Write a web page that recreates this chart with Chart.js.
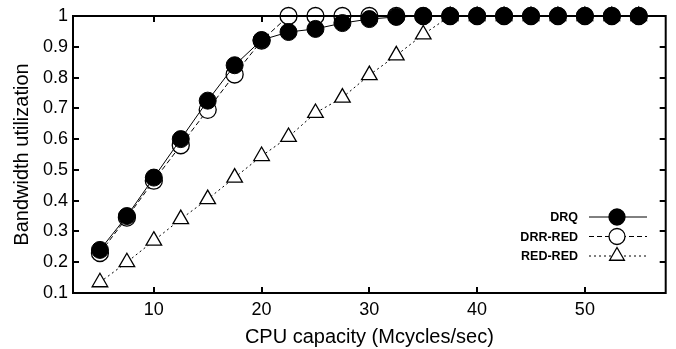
<!doctype html>
<html>
<head>
<title>Bandwidth utilization</title>
<script src="https://cdn.jsdelivr.net/npm/chart.js@4/dist/chart.umd.min.js"></script>
<style>
  body { margin: 0; background: #fff; }
  #wrap { width: 676px; height: 349px; }
</style>
</head>
<body>
<div id="wrap"><canvas id="canvas"></canvas></div>
<script>
// CPU capacity (Mcycles/sec)
var cpu = [5, 7.5, 10, 12.5, 15, 17.5, 20, 22.5, 25, 27.5, 30, 32.5, 35, 37.5, 40, 42.5, 45, 47.5, 50, 52.5, 55];
var drq    = [0.24, 0.35, 0.475, 0.60, 0.725, 0.84, 0.922, 0.948, 0.958, 0.977, 0.99, 0.997, 1, 1, 1, 1, 1, 1, 1, 1, 1];
var drrRed = [0.23, 0.345, 0.465, 0.58, 0.695, 0.81, 0.92, 1, 1, 1, 1, 1, 1, 1, 1, 1, 1, 1, 1, 1, 1];
var redRed = [0.135, 0.20, 0.27, 0.34, 0.405, 0.475, 0.545, 0.607, 0.685, 0.735, 0.808, 0.872, 0.94, 1, 1, 1, 1, 1, 1, 1, 1];
var xTicks = [10, 20, 30, 40, 50];
var yTicks = [0.1, 0.2, 0.3, 0.4, 0.5, 0.6, 0.7, 0.8, 0.9, 1];

var FONT = "'Liberation Sans', Arial, sans-serif";

function pts(ys) {
  return cpu.map(function (x, i) { return { x: x, y: ys[i] }; });
}

// inward ticks on all four sides + frame
var frame = {
  id: 'frame',
  afterDatasetsDraw: function (chart) {
    var c = chart.ctx, a = chart.chartArea;
    var xs = chart.scales.x, ys = chart.scales.y;
    c.save();
    c.strokeStyle = '#000';
    c.lineWidth = 2;
    c.strokeRect(a.left, a.top, a.right - a.left, a.bottom - a.top);
    c.beginPath();
    xTicks.forEach(function (v) {
      var px = Math.round(xs.getPixelForValue(v));
      c.moveTo(px, a.bottom); c.lineTo(px, a.bottom - 6);
      c.moveTo(px, a.top); c.lineTo(px, a.top + 6);
    });
    yTicks.forEach(function (v) {
      var py = Math.round(ys.getPixelForValue(v));
      c.moveTo(a.left, py); c.lineTo(a.left + 6, py);
      c.moveTo(a.right, py); c.lineTo(a.right - 6, py);
    });
    c.stroke();
    c.restore();
  }
};

// gnuplot style key, bottom right inside the plot
var key = {
  id: 'key',
  afterDraw: function (chart) {
    var c = chart.ctx;
    var rows = [217, 236.5, 256];
    c.save();
    c.font = 'bold 12.5px ' + FONT;
    c.textAlign = 'right';
    c.textBaseline = 'middle';
    chart.data.datasets.forEach(function (ds, i) {
      var y = rows[i];
      c.fillStyle = '#000';
      c.fillText(ds.label, 578, y + 1);
      c.strokeStyle = '#000';
      c.lineWidth = 1;
      c.setLineDash(ds.borderDash || []);
      c.beginPath(); c.moveTo(589, y); c.lineTo(647, y); c.stroke();
      c.setLineDash([]);
      c.lineWidth = 1.3;
      c.fillStyle = ds.pointBackgroundColor;
      c.beginPath();
      if (ds.pointStyle === 'triangle') {
        var r = 8.5;
        c.moveTo(617, y - r); c.lineTo(617 + r * 0.87, y + r * 0.5); c.lineTo(617 - r * 0.87, y + r * 0.5); c.closePath();
      } else {
        c.arc(617, y, 8, 0, Math.PI * 2);
      }
      c.fill(); c.stroke();
    });
    c.restore();
  }
};

new Chart(document.getElementById('canvas'), {
  type: 'line',
  data: {
    datasets: [{
      label: 'DRQ',
      data: pts(drq),
      borderColor: '#000',
      borderWidth: 1,
      pointStyle: 'circle',
      pointRadius: 8.5,
      pointBackgroundColor: '#000',
      pointBorderColor: '#000'
    }, {
      label: 'DRR-RED',
      data: pts(drrRed),
      borderColor: '#000',
      borderWidth: 1,
      borderDash: [5, 3],
      pointStyle: 'circle',
      pointRadius: 8.5,
      pointBorderWidth: 1.3,
      pointBackgroundColor: '#fff',
      pointBorderColor: '#000'
    }, {
      label: 'RED-RED',
      data: pts(redRed),
      borderColor: '#000',
      borderWidth: 1,
      borderDash: [2, 3],
      pointStyle: 'triangle',
      pointRadius: 9,
      pointBorderWidth: 1.3,
      pointBackgroundColor: '#fff',
      pointBorderColor: '#000'
    }]
  },
  options: {
    responsive: true,
    maintainAspectRatio: false,
    animation: false,
    clip: false,
    layout: { padding: { top: 16, right: 8, left: 0, bottom: 0 } },
    plugins: { legend: { display: false }, tooltip: { enabled: false } },
    scales: {
      x: {
        type: 'linear',
        min: 2.5,
        max: 57.5,
        afterBuildTicks: function (s) { s.ticks = xTicks.map(function (v) { return { value: v }; }); },
        afterFit: function (s) { s.height = 56; },
        grid: { display: false, drawTicks: false },
        border: { display: false },
        ticks: { color: '#000', padding: 6, font: { family: FONT, size: 18 }, maxRotation: 0 },
        title: { display: true, text: 'CPU capacity (Mcycles/sec)', color: '#000', padding: { top: 0, bottom: 0 }, font: { family: FONT, size: 20 } }
      },
      y: {
        min: 0.1,
        max: 1,
        afterBuildTicks: function (s) { s.ticks = yTicks.map(function (v) { return { value: v }; }); },
        afterFit: function (s) { s.width = 73; },
        grid: { display: false, drawTicks: false },
        border: { display: false },
        ticks: {
          color: '#000', padding: 5, font: { family: FONT, size: 18 },
          callback: function (v) { return String(Math.round(v * 10) / 10); }
        },
        title: { display: true, text: 'Bandwidth utilization', color: '#000', padding: { top: 10, bottom: 0 }, font: { family: FONT, size: 20 } }
      }
    }
  },
  plugins: [frame, key]
});
</script>
</body>
</html>
